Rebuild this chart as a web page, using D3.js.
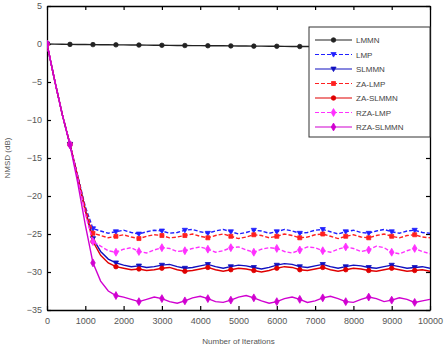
<!DOCTYPE html>
<html>
<head>
<meta charset="utf-8">
<script src="https://cdnjs.cloudflare.com/ajax/libs/d3/7.8.5/d3.min.js"></script>
<style>
  body { margin: 0; background: #fff; }
  svg text { font-family: "Liberation Sans", Arial, sans-serif; }
</style>
</head>
<body>
<div class="nmsd-chart"></div>
<script>
// iterations sampled every 200
var iterations = d3.range(0, 10001, 200);

var lmmn = [0, -0.02, -0.03, -0.05, -0.06, -0.07, -0.08, -0.09, -0.10, -0.11,
  -0.12, -0.13, -0.14, -0.15, -0.16, -0.17, -0.18, -0.19, -0.20, -0.21,
  -0.22, -0.23, -0.23, -0.24, -0.25, -0.26, -0.27, -0.28, -0.28, -0.29,
  -0.30, -0.31, -0.32, -0.33, -0.33, -0.34, -0.35, -0.36, -0.36, -0.37,
  -0.38, -0.39, -0.39, -0.40, -0.41, -0.42, -0.42, -0.43, -0.44, -0.44, -0.45];

var lmp = [0, -4.8, -9.3, -13.2, -17.3, -21.4, -24.3, -24.6, -24.9, -24.7,
  -24.5, -24.8, -25.0, -24.7, -24.5, -24.6, -24.9, -24.8, -24.5, -24.4,
  -24.7, -24.9, -24.6, -24.4, -24.7, -25.0, -24.8, -24.5, -24.6, -24.9,
  -24.7, -24.4, -24.6, -24.9, -24.8, -24.5, -24.4, -24.7, -25.0, -24.7,
  -24.5, -24.8, -24.9, -24.6, -24.4, -24.7, -24.9, -24.6, -24.5, -24.8, -24.9];

var slmmn = [0, -4.8, -9.3, -13.2, -17.4, -21.8, -25.6, -27.3, -28.3, -28.8,
  -29.1, -29.3, -29.2, -29.4, -29.3, -29.1, -29.0, -29.3, -29.5, -29.4,
  -29.2, -29.0, -29.3, -29.5, -29.3, -29.1, -29.2, -29.4, -29.6, -29.4,
  -29.1, -28.9, -29.0, -29.3, -29.4, -29.2, -29.0, -29.3, -29.5, -29.3,
  -29.1, -29.2, -29.4, -29.5, -29.3, -29.1, -29.3, -29.5, -29.4, -29.3, -29.5];

var zaLmp = [0, -4.8, -9.3, -13.2, -17.4, -21.6, -24.9, -25.2, -25.5, -25.3,
  -25.1, -25.4, -25.6, -25.3, -25.1, -25.2, -25.5, -25.4, -25.2, -25.0,
  -25.3, -25.5, -25.2, -25.0, -25.3, -25.6, -25.4, -25.1, -25.2, -25.5,
  -25.3, -25.0, -25.2, -25.5, -25.4, -25.1, -25.0, -25.3, -25.6, -25.3,
  -25.1, -25.4, -25.5, -25.2, -25.0, -25.3, -25.5, -25.2, -25.1, -25.4, -25.5];

var zaSlmmn = [0, -4.8, -9.3, -13.2, -17.5, -22.0, -26.0, -27.8, -28.8, -29.3,
  -29.5, -29.7, -29.6, -29.8, -29.7, -29.5, -29.4, -29.7, -29.9, -29.8,
  -29.6, -29.4, -29.7, -29.9, -29.7, -29.5, -29.6, -29.8, -30.0, -29.8,
  -29.5, -29.3, -29.4, -29.7, -29.8, -29.6, -29.4, -29.7, -29.9, -29.7,
  -29.5, -29.6, -29.8, -29.9, -29.7, -29.5, -29.7, -29.9, -29.8, -29.7, -29.9];

var rzaLmp = [0, -4.8, -9.3, -13.2, -17.6, -22.3, -26.0, -26.6, -27.2, -27.4,
  -27.0, -26.8, -27.3, -27.5, -27.1, -26.8, -26.9, -27.3, -27.2, -26.9,
  -26.7, -27.0, -27.4, -27.2, -26.8, -26.7, -27.1, -27.4, -27.0, -26.8,
  -26.9, -27.3, -27.5, -27.1, -26.7, -26.8, -27.2, -27.4, -27.0, -26.7,
  -26.9, -27.3, -27.1, -26.6, -26.8, -27.4, -27.6, -27.2, -26.9, -27.3, -27.6];

var rzaSlmmn = [0, -4.8, -9.3, -13.3, -18.2, -23.8, -28.8, -31.2, -32.5, -33.1,
  -33.3, -33.6, -33.9, -33.6, -33.3, -33.5, -33.9, -34.1, -33.8, -33.4,
  -33.2, -33.5, -33.9, -34.0, -33.7, -33.3, -33.1, -33.4, -33.8, -34.1,
  -33.9, -33.5, -33.3, -33.6, -34.0, -33.8, -33.4, -33.2, -33.5, -33.9,
  -34.0, -33.6, -33.3, -33.5, -33.9, -33.7, -33.4, -33.6, -34.0, -33.8, -33.6];

var xTicks = [0, 1000, 2000, 3000, 4000, 5000, 6000, 7000, 8000, 9000, 10000];
var yTicks = [5, 0, -5, -10, -15, -20, -25, -30, -35];

var series = [
  {name: "LMMN",      values: lmmn,     color: "#222",    dash: null,  marker: "circle"},
  {name: "LMP",       values: lmp,      color: "#2020ff", dash: "4,2", marker: "tri"},
  {name: "SLMMN",     values: slmmn,    color: "#1010c0", dash: null,  marker: "tri"},
  {name: "ZA-LMP",    values: zaLmp,    color: "#ff2020", dash: "4,2", marker: "square"},
  {name: "ZA-SLMMN",  values: zaSlmmn,  color: "#e00000", dash: null,  marker: "circle"},
  {name: "RZA-LMP",   values: rzaLmp,   color: "#ff30ff", dash: "4,2", marker: "diamond"},
  {name: "RZA-SLMMN", values: rzaSlmmn, color: "#d000d0", dash: null,  marker: "diamond"}
];

var margin = {top: 6, right: 16, bottom: 42, left: 47},
    width = 446 - margin.left - margin.right,
    height = 352 - margin.top - margin.bottom;

var svg = d3.select(".nmsd-chart").append("svg")
    .attr("width", 446).attr("height", 352);
var chart = svg.append("g")
    .attr("transform", "translate(" + margin.left + "," + margin.top + ")");

var x = d3.scaleLinear().domain([0, 10000]).range([0, width]);
var y = d3.scaleLinear().domain([-35, 5]).range([height, 0]);

//clip so nothing spills past the box
svg.append("defs").append("clipPath").attr("id", "plotClip")
  .append("rect").attr("width", width).attr("height", height);

// axes, ticks inside on all four sides
var tickColor = "#000";
var xBottom = chart.append("g").attr("transform", "translate(0," + height + ")")
    .call(d3.axisBottom(x).tickValues(xTicks).tickFormat(d3.format("d"))
      .tickSizeInner(-4).tickSizeOuter(0).tickPadding(8));
var xTop = chart.append("g")
    .call(d3.axisTop(x).tickValues(xTicks).tickSizeInner(-4).tickSizeOuter(0).tickFormat(""));
var yLeft = chart.append("g")
    .call(d3.axisLeft(y).tickValues(yTicks).tickSizeInner(-4).tickSizeOuter(0).tickPadding(5));
var yRight = chart.append("g").attr("transform", "translate(" + width + ",0)")
    .call(d3.axisRight(y).tickValues(yTicks).tickSizeInner(-4).tickSizeOuter(0).tickFormat(""));

[xBottom, xTop, yLeft, yRight].forEach(function(a){
  a.select(".domain").attr("stroke", tickColor).attr("stroke-width", 1.3);
  a.selectAll(".tick line").attr("stroke", tickColor).attr("stroke-width", 1.2);
  a.selectAll(".tick text").attr("fill", "#555").style("font-size", "9px");
});

// axis titles
chart.append("text")
  .attr("x", width / 2).attr("y", height + 34)
  .style("text-anchor", "middle").style("font-size", "8px").attr("fill", "#555")
  .text("Number of Iterations");
chart.append("text")
  .attr("transform", "translate(" + (-37) + "," + (height / 2) + ") rotate(-90)")
  .style("text-anchor", "middle").style("font-size", "8px").attr("fill", "#555")
  .text("NMSD (dB)");

function markerPath(type) {
  if (type === "circle") return d3.symbol().type(d3.symbolCircle).size(16)();
  if (type === "square") return d3.symbol().type(d3.symbolSquare).size(16)();
  if (type === "diamond") return d3.symbol().type(d3.symbolDiamond).size(18)();
  // downward triangle
  return "M-2.6,-1.9L2.6,-1.9L0,2.6Z";
}

var line = d3.line()
  .x(function(d){ return x(d[0]); })
  .y(function(d){ return y(d[1]); });

var plot = chart.append("g").attr("clip-path", "url(#plotClip)");

series.forEach(function(s){
  var pts = iterations.map(function(it, i){ return [it, s.values[i]]; });
  plot.append("path")
    .datum(pts)
    .attr("d", line)
    .attr("fill", "none")
    .attr("stroke", s.color)
    .attr("stroke-width", 1.4)
    .attr("stroke-dasharray", s.dash);
  // markers every 600 iterations
  plot.selectAll(null)
    .data(pts.filter(function(d){ return d[0] % 600 === 0; }))
    .enter().append("path")
    .attr("d", markerPath(s.marker))
    .attr("transform", function(d){ return "translate(" + x(d[0]) + "," + y(d[1]) + ")"; })
    .attr("fill", s.color)
    .attr("stroke", s.color)
    .attr("stroke-width", 0.8);
});

// legend
var legend = chart.append("g").attr("transform", "translate(" + (262) + "," + (21) + ")");
legend.append("rect")
  .attr("width", 121).attr("height", 110)
  .attr("fill", "#fff").attr("stroke", "#333").attr("stroke-width", 1);

var entries = legend.selectAll(".entry")
  .data(series).enter()
  .append("g").attr("class", "entry")
  .attr("transform", function(d, i){ return "translate(0," + (13 + i * 14.5) + ")"; });
entries.append("line")
  .attr("x1", 6).attr("x2", 43)
  .attr("stroke", function(d){ return d.color; })
  .attr("stroke-width", 1.2)
  .attr("stroke-dasharray", function(d){ return d.dash; });
entries.append("path")
  .attr("d", function(d){ return markerPath(d.marker); })
  .attr("transform", "translate(24.5,0)")
  .attr("fill", function(d){ return d.color; })
  .attr("stroke", function(d){ return d.color; })
  .attr("stroke-width", 0.8);
entries.append("text")
  .attr("x", 47).attr("dy", 3)
  .style("font-size", "8px").attr("fill", "#444")
  .text(function(d){ return d.name; });
</script>
</body>
</html>
